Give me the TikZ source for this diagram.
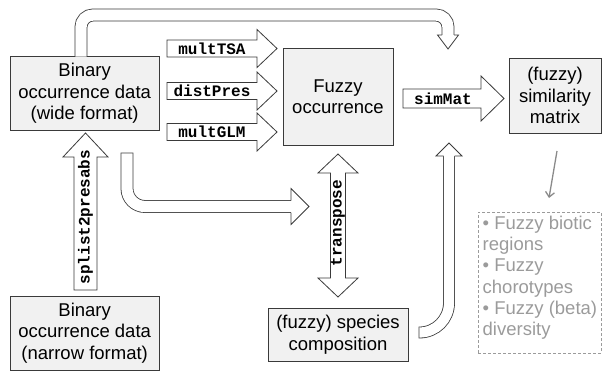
\documentclass[tikz,border=0pt]{standalone}
\usepackage{fontspec}
\setmainfont{Liberation Sans}
\setmonofont{Liberation Mono}
\usetikzlibrary{arrows.meta}
\definecolor{olc}{HTML}{3A3A3A}
\definecolor{boxfill}{HTML}{F1F1F1}
\definecolor{grtext}{HTML}{9B9B9B}
\definecolor{grline}{HTML}{8A8A8A}
\tikzset{
  ol/.style={draw=olc, line width=0.8pt, line join=miter},
  box/.style={draw=olc, line width=0.8pt, fill=boxfill, align=center, inner sep=0pt,
    font=\fontsize{18.5}{21.5}\selectfont},
  lbl/.style={font=\ttfamily\bfseries\fontsize{16}{18}\selectfont, inner sep=0pt, text=black},
  shaftout/.style={draw=olc, line width=#1},
  shaftin/.style={draw=white, line width=#1},
  dashbox/.style={draw=grtext, line width=0.8pt, dash pattern=on 3pt off 2pt},
  grarrow/.style={draw=grline, line width=1.3pt, -{Straight Barb[length=5pt,width=9pt]}},
}
% right-pointing block arrow: x0, xtip, yc, shaft half, head half, head length
\newcommand\rarrblk[6]{%
  \draw[ol, fill=white] (#1,#3-#4) -- (#2-#6,#3-#4) -- (#2-#6,#3-#5) -- (#2,#3)
    -- (#2-#6,#3+#5) -- (#2-#6,#3+#4) -- (#1,#3+#4) -- cycle;}
% up-pointing block arrow: xc, ybottom, ytip, shaft half, head half, head length
\newcommand\uarrblk[6]{%
  \draw[ol, fill=white] (#1-#4,#2) -- (#1-#4,#3+#6) -- (#1-#5,#3+#6) -- (#1,#3)
    -- (#1+#5,#3+#6) -- (#1+#4,#3+#6) -- (#1+#4,#2) -- cycle;}
% double vertical block arrow: xc, ytop, ybottom, shaft half, head half, head length
\newcommand\darrblk[6]{%
  \draw[ol, fill=white] (#1,#2) -- (#1+#5,#2+#6) -- (#1+#4,#2+#6) -- (#1+#4,#3-#6)
    -- (#1+#5,#3-#6) -- (#1,#3) -- (#1-#5,#3-#6) -- (#1-#4,#3-#6) -- (#1-#4,#2+#6)
    -- (#1-#5,#2+#6) -- cycle;}
% heads for curved arrows: x, ybase/xbase, shaft half, head half, length
\newcommand\headdown[5]{%
  \fill[white] (#1-#4,#2) -- (#1,#2+#5) -- (#1+#4,#2) -- cycle;
  \draw[ol] (#1-#3,#2) -- (#1-#4,#2) -- (#1,#2+#5) -- (#1+#4,#2) -- (#1+#3,#2);}
\newcommand\headup[5]{%
  \fill[white] (#1-#4,#2) -- (#1,#2-#5) -- (#1+#4,#2) -- cycle;
  \draw[ol] (#1-#3,#2) -- (#1-#4,#2) -- (#1,#2-#5) -- (#1+#4,#2) -- (#1+#3,#2);}
\newcommand\headright[5]{% xbase, yc, shaft half, head half, length
  \fill[white] (#1,#2-#4) -- (#1+#5,#2) -- (#1,#2+#4) -- cycle;
  \draw[ol] (#1,#2-#3) -- (#1,#2-#4) -- (#1+#5,#2) -- (#1,#2+#4) -- (#1,#2+#3);}
\begin{document}
\begin{tikzpicture}[x=1pt, y=-1pt]
\useasboundingbox (0,0) rectangle (603,370);

% boxes
\node[box, minimum width=149.3pt, minimum height=74pt] (wide) at (84.65,93.7)
  {Binary\\occurrence data\\(wide format)};
\node[box, minimum width=110pt, minimum height=97pt] (occ) at (338,96.5)
  {Fuzzy\\occurrence};
\node[box, minimum width=92pt, minimum height=75pt] (sim) at (555,95.5)
  {(fuzzy)\\similarity\\matrix};
\node[box, minimum width=149.3pt, minimum height=74pt] (narrow) at (84.65,333)
  {Binary\\occurrence data\\(narrow format)};
\node[box, minimum width=140pt, minimum height=53pt] (comp) at (338,334.5)
  {(fuzzy) species\\composition};
\node[dashbox, minimum width=123pt, minimum height=141pt] (dash) at (539.5,282.5) {};
\node[anchor=north west, align=left, inner sep=0pt, text=grtext,
  font=\fontsize{18.5}{21.3}\selectfont] (dtext) at (482.5,215.5)
  {• Fuzzy biotic\\regions\\• Fuzzy\\chorotypes\\• Fuzzy (beta)\\diversity};

% straight block arrows
\rarrblk{167}{277}{48.5}{8.5}{19}{20}
\node[lbl] (tsa) at (212,48.5) {multTSA};
\rarrblk{167}{277}{91}{8.5}{19}{20}
\node[lbl] (dist) at (212,91) {distPres};
\rarrblk{167}{277}{132}{8.5}{19}{20}
\node[lbl] (glm) at (212,132) {multGLM};
\rarrblk{403}{504}{98.5}{9.5}{22.5}{23}
\node[lbl] (simm) at (443,98.5) {simMat};
\uarrblk{85.5}{290}{133}{11.5}{22.5}{24}
\node[lbl, rotate=90] (spl) at (85.5,217) {splist2presabs};
\darrblk{338}{154}{297}{7.5}{20}{19}
\node[lbl, rotate=90] (tr) at (338,223) {transpose};

% curved arrow: wide -> over the top -> towards simMat
\draw[shaftout=12.8pt, rounded corners=12pt] (81,56.6) -- (81,15) -- (448,15) -- (448,35);
\draw[shaftin=11.2pt, rounded corners=12pt] (81,56.6) -- (81,15) -- (448,15) -- (448,35);
\headdown{448}{35}{6}{10.5}{14}

% curved arrow: below wide -> right
\draw[shaftout=12.8pt, rounded corners=18pt] (127,152.6) -- (127,206.5) -- (291,206.5);
\draw[shaftin=11.2pt, rounded corners=18pt] (127,153.4) -- (127,206.5) -- (291,206.5);
\headright{291}{206.5}{6}{18}{18}

% curved arrow: composition -> up
\draw[shaftout=11.8pt, rounded corners=29.5pt] (418.6,332.5) -- (449,332.5) -- (449,156);
\draw[shaftin=10.2pt, rounded corners=29.5pt] (419.4,332.5) -- (449,332.5) -- (449,156);
\headup{449}{156}{5.5}{13}{13}

% grey arrow
\coordinate (g1) at (557,151);
\coordinate (g2) at (549,198);
\draw[grarrow] (g1) -- (g2);
\end{tikzpicture}
\end{document}
